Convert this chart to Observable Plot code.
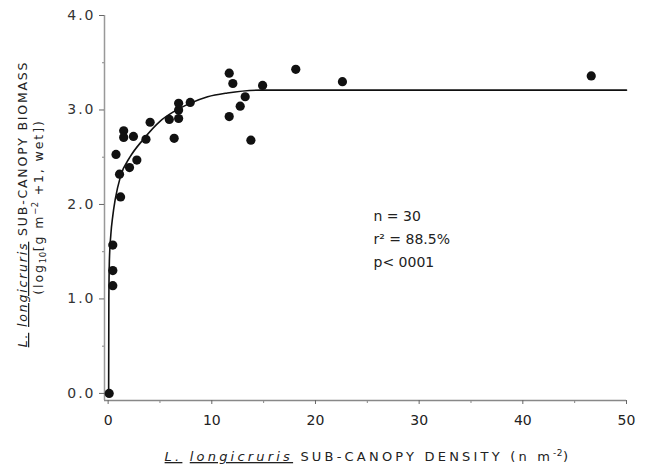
<!DOCTYPE html>
<html>
<head>
<meta charset="utf-8">
<script src="https://cdn.jsdelivr.net/npm/d3@7"></script>
<script src="https://cdn.jsdelivr.net/npm/@observablehq/plot@0.6"></script>
<style>
  html, body { margin: 0; padding: 0; background: #fff; }
  #chart svg { display: block; }
</style>
</head>
<body>
<div id="chart"></div>
<script>
// observed points
const density = [0.1, 0.45, 0.45, 0.45, 1.2, 0.76, 1.1, 2.06, 2.77, 1.5, 1.5, 2.44, 3.65, 4.05, 5.9, 6.37, 6.8, 6.8, 6.8, 7.92, 11.68, 12.03, 11.68, 12.74, 13.22, 13.77, 14.9, 18.1, 22.6, 46.6];
const biomass = [0.0, 1.57, 1.30, 1.14, 2.08, 2.53, 2.32, 2.39, 2.47, 2.78, 2.71, 2.72, 2.69, 2.87, 2.90, 2.70, 2.91, 3.00, 3.07, 3.08, 3.39, 3.28, 2.93, 3.04, 3.14, 2.68, 3.26, 3.43, 3.30, 3.36];

// fitted curve
const curveDensity = [0.05, 0.07, 0.12, 0.26, 0.45, 0.68, 1.2, 2.1, 3.4, 5.0, 6.3, 7.9, 9.6, 11.5, 14.7, 20, 50];
const curveBiomass = [0.0, 1.0, 1.4, 1.68, 1.88, 2.05, 2.3, 2.5, 2.69, 2.88, 2.98, 3.07, 3.14, 3.18, 3.21, 3.21, 3.21];

// ticks
const xTicks = [0, 10, 20, 30, 40, 50];
const xMinorTicks = [5, 15, 25, 35, 45];
const yTicks = [0, 1, 2, 3, 4];
const yTickLabels = ["0.0", "1.0", "2.0", "3.0", "4.0"];
const yMinorTicks = [0.5, 1.5, 2.5, 3.5];

const statsLines = ["n = 30", "r² = 88.5%", "p< 0001"];

const points = density.map((d, i) => ({density: d, biomass: biomass[i]}));
const curve = curveDensity.map((d, i) => ({density: d, biomass: curveBiomass[i]}));

const xDomain = [-0.35, 50];
const yDomain = [-0.075, 4];

const svg = Plot.plot({
  width: 651,
  height: 465,
  marginLeft: 104,
  marginRight: 25,
  marginTop: 15,
  marginBottom: 65,
  style: {fontFamily: "DejaVu Sans", fontSize: "14px", background: "#fff", color: "#222"},
  x: {domain: xDomain},
  y: {domain: yDomain},
  marks: [
    Plot.ruleY([yDomain[0]], {stroke: "#888", strokeWidth: 1.5}),
    Plot.ruleX([xDomain[0]], {stroke: "#999", strokeWidth: 1.5}),
    Plot.axisX({ticks: xTicks, tickSize: 4, tickPadding: 11, label: null, stroke: "#666", fill: "#222", fontSize: 14}),
    Plot.axisX({ticks: xMinorTicks, tickSize: 3, text: null, label: null, stroke: "#888"}),
    Plot.axisY({ticks: yTicks, tickFormat: (d) => yTickLabels[yTicks.indexOf(d)], tickSize: 5, tickPadding: 4, label: null, stroke: "#666", fill: "#333", fontSize: 14}),
    Plot.axisY({ticks: yMinorTicks, tickSize: 2, text: null, label: null, stroke: "#888"}),
    Plot.line(curve, {x: "density", y: "biomass", curve: "monotone-x", stroke: "#111", strokeWidth: 1.6}),
    Plot.dot(points, {x: "density", y: "biomass", r: 4.6, fill: "#111", stroke: "none"}),
    Plot.text([statsLines.join("\n")], {x: 25.6, y: 2.0, text: (d) => d, textAnchor: "start", lineAnchor: "top", lineHeight: 1.65, fontSize: 14, fill: "#222"})
  ]
});

document.getElementById("chart").appendChild(svg);

const s = d3.select(svg);
s.selectAll('g[aria-label="y-axis tick label"] text').attr("letter-spacing", 2);

// x axis title
const xt = s.append("text")
  .attr("x", 368).attr("y", 461)
  .attr("text-anchor", "middle")
  .attr("font-family", "DejaVu Sans")
  .attr("font-size", 13)
  .attr("letter-spacing", 3.2)
  .attr("fill", "#222");
xt.append("tspan").attr("font-style", "italic").attr("text-decoration", "underline").text("L.");
xt.append("tspan").text(" ");
xt.append("tspan").attr("font-style", "italic").attr("text-decoration", "underline").text("longicruris");
xt.append("tspan").text(" SUB-CANOPY DENSITY (n m");
xt.append("tspan").attr("dy", -5).attr("font-size", 9).attr("letter-spacing", 0.5).text("-2");
xt.append("tspan").attr("dy", 5).text(")");

// y axis title, line 1
const yt1 = s.append("text")
  .attr("transform", "translate(27,204) rotate(-90)")
  .attr("text-anchor", "middle")
  .attr("font-family", "DejaVu Sans")
  .attr("font-size", 12.5)
  .attr("letter-spacing", 1.8)
  .attr("fill", "#222");
yt1.append("tspan").attr("font-style", "italic").attr("text-decoration", "underline").text("L.");
yt1.append("tspan").text(" ");
yt1.append("tspan").attr("font-style", "italic").attr("text-decoration", "underline").text("longicruris");
yt1.append("tspan").text(" SUB-CANOPY BIOMASS");

// y axis title, line 2
const yt2 = s.append("text")
  .attr("transform", "translate(43,207) rotate(-90)")
  .attr("text-anchor", "middle")
  .attr("font-family", "DejaVu Sans")
  .attr("font-size", 12.5)
  .attr("letter-spacing", 1.9)
  .attr("fill", "#222");
yt2.append("tspan").text("(log");
yt2.append("tspan").attr("dy", 3).attr("font-size", 8.5).attr("letter-spacing", 0.5).text("10");
yt2.append("tspan").attr("dy", -3).text("[g m");
yt2.append("tspan").attr("dy", -5).attr("font-size", 8.5).attr("letter-spacing", 0.5).text("−2");
yt2.append("tspan").attr("dy", 5).text(" +1, wet])");
</script>
</body>
</html>
